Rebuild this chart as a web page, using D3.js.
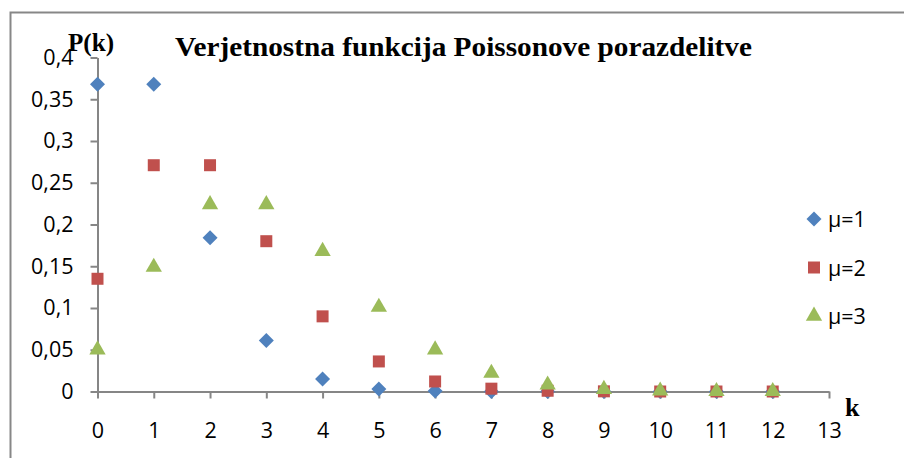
<!DOCTYPE html>
<html>
<head>
<meta charset="utf-8">
<script src="https://cdnjs.cloudflare.com/ajax/libs/d3/7.8.5/d3.min.js"></script>
<style>
  body { margin: 0; background: #fff; }
  svg { display: block; }
  .tick text { font-family: "Open Sans", "Liberation Sans", sans-serif; font-size: 21.5px; fill: #000; }
</style>
</head>
<body>
<div id="chart"></div>
<script>
// Poisson probabilities, k = 0..12
var kValues = [0, 1, 2, 3, 4, 5, 6, 7, 8, 9, 10, 11, 12];
var mu1 = [0.368, 0.368, 0.184, 0.061, 0.015, 0.003, 0.0005, 0.0001, 0, 0, 0, 0, 0];
var mu2 = [0.135, 0.271, 0.271, 0.180, 0.090, 0.036, 0.012, 0.0034, 0.0009, 0.0002, 0, 0, 0];
var mu3 = [0.050, 0.149, 0.224, 0.224, 0.168, 0.101, 0.050, 0.022, 0.008, 0.0027, 0.0008, 0.0002, 0.0001];
var seriesNames = ["μ=1", "μ=2", "μ=3"];
var xTicks = [0, 1, 2, 3, 4, 5, 6, 7, 8, 9, 10, 11, 12, 13];
var yTicks = [0, 0.05, 0.1, 0.15, 0.2, 0.25, 0.3, 0.35, 0.4];

var width = 904, height = 458;

var svg = d3.select('#chart').append('svg')
  .attr('width', width)
  .attr('height', height);

// outer frame (only top and left edges are visible)
svg.append('path')
  .attr('d', 'M10.5,' + height + ' V12.5 H' + width)
  .attr('fill', 'none')
  .attr('stroke', '#878787')
  .attr('stroke-width', 2);

var x = d3.scaleLinear().domain([0, 13]).range([97.5, 829]);
var y = d3.scaleLinear().domain([0, 0.4]).range([391.5, 57.5]);

var fmt = function(d) { return String(d).replace('.', ','); };

var xAxis = svg.append('g')
  .attr('transform', 'translate(0,' + y(0) + ')')
  .call(d3.axisBottom(x).tickValues(xTicks).tickSize(7).tickPadding(24).tickSizeOuter(0));

var yAxis = svg.append('g')
  .attr('transform', 'translate(' + x(0) + ',0)')
  .call(d3.axisLeft(y).tickValues(yTicks).tickFormat(fmt).tickSize(7).tickPadding(17).tickSizeOuter(0));

[xAxis, yAxis].forEach(function(g) {
  g.select('.domain').attr('stroke', '#868686').attr('stroke-width', 2);
  g.selectAll('.tick line').attr('stroke', '#868686').attr('stroke-width', 2);
});

var colors = ['#4F81BD', '#C0504D', '#9BBB59'];
// square diamond, like the spreadsheet marker
var diamond = function() { return 'M0,-7.5L7.5,0L0,7.5L-7.5,0Z'; };
var symbols = [
  diamond,
  d3.symbol().type(d3.symbolSquare).size(144),
  d3.symbol().type(d3.symbolTriangle).size(115)
];
var allSeries = [mu1, mu2, mu3];

allSeries.forEach(function(vals, i) {
  svg.append('g').selectAll('path')
    .data(vals)
    .enter().append('path')
    .attr('d', symbols[i])
    .attr('transform', function(d, j) { return 'translate(' + x(kValues[j]) + ',' + y(d) + ')'; })
    .attr('fill', colors[i]);
});

// legend
var legend = svg.append('g');
seriesNames.forEach(function(name, i) {
  var ly = 219 + i * 48.5;
  legend.append('path')
    .attr('d', symbols[i])
    .attr('transform', 'translate(814,' + ly + ')')
    .attr('fill', colors[i]);
  legend.append('text')
    .attr('x', 828).attr('y', ly + 8)
    .attr('font-family', '"Open Sans", "Liberation Sans", sans-serif')
    .attr('font-size', 21.5)
    .text(name);
});

// titles
svg.append('text')
  .attr('x', 175).attr('y', 56)
  .attr('font-family', '"Liberation Serif", "Times New Roman", serif')
  .attr('font-weight', 'bold')
  .attr('font-size', 27)
  .attr('textLength', 577)
  .attr('lengthAdjust', 'spacingAndGlyphs')
  .text('Verjetnostna funkcija Poissonove porazdelitve');

svg.append('text')
  .attr('x', 68).attr('y', 51)
  .attr('font-family', '"Liberation Serif", "Times New Roman", serif')
  .attr('font-weight', 'bold')
  .attr('font-size', 25)
  .attr('textLength', 46)
  .attr('lengthAdjust', 'spacingAndGlyphs')
  .text('P(k)');

svg.append('text')
  .attr('x', 845).attr('y', 416)
  .attr('font-family', '"Liberation Serif", "Times New Roman", serif')
  .attr('font-weight', 'bold')
  .attr('font-size', 26)
  .text('k');
</script>
</body>
</html>
